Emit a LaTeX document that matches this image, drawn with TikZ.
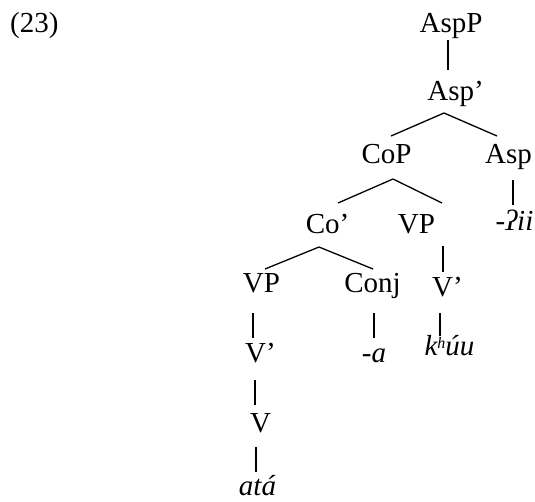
\documentclass[tikz,border=0pt]{standalone}
\usepackage{fontspec}
\setmainfont{Liberation Serif}
\begin{document}
\begin{tikzpicture}[x=1pt,y=1pt,
  lab/.style={inner sep=0pt,anchor=base,font=\fontsize{29}{34}\selectfont},
  leaf/.style={lab,font=\fontsize{29}{34}\selectfont\itshape},
  edge/.style={line width=1.3pt}]
\useasboundingbox (0,0) rectangle (535,-501);
% nodes (x = text centre, y = -baseline)
\node[lab,anchor=base west] (ex) at (10,-32) {(23)};
\node[lab] (aspP)   at (451,-32)   {AspP};
\node[lab] (aspbar) at (455.5,-100) {Asp'};
\node[lab] (coP)    at (386.5,-163) {CoP};
\node[lab] (asp)    at (508.5,-163) {Asp};
\node[leaf] (ii)    at (514.5,-230) {-ʔii};
\node[lab] (cobar)  at (327.5,-233) {Co'};
\node[lab] (vpR)    at (416.5,-233) {VP};
\node[lab] (vpL)    at (261.5,-292) {VP};
\node[lab] (conj)   at (372.5,-292) {Conj};
\node[lab] (vbarR)  at (447.5,-296) {V'};
\node[lab] (vbarL)  at (260.5,-362) {V'};
\node[leaf] (a)     at (374,-362)   {-a};
\node[leaf] (khuu)  at (449.5,-355) {k\raisebox{7pt}{\fontsize{16}{16}\selectfont h}úu};
\node[lab] (v)      at (260.5,-432) {V};
\node[leaf] (ata)   at (257.5,-495) {atá};
% connectors
\draw[edge] ([shift={(-3,-8)}]aspP.base) -- ([shift={(-7.5,30)}]aspbar.base);
\draw[edge] ([shift={(-11.5,-13)}]aspbar.base) -- ([shift={(4.5,27)}]coP.base);
\draw[edge] ([shift={(-11.5,-13)}]aspbar.base) -- ([shift={(-11.5,27)}]asp.base);
\draw[edge] ([shift={(4.5,-17)}]asp.base) -- ([shift={(-1.5,25)}]ii.base);
\draw[edge] ([shift={(6.5,-16)}]coP.base) -- ([shift={(10.5,30)}]cobar.base);
\draw[edge] ([shift={(6.5,-16)}]coP.base) -- ([shift={(25.5,30)}]vpR.base);
\draw[edge] ([shift={(26.5,-13)}]vpR.base) -- ([shift={(-4.5,24)}]vbarR.base);
\draw[edge] ([shift={(-8.5,-14)}]cobar.base) -- ([shift={(3.5,23)}]vpL.base);
\draw[edge] ([shift={(-8.5,-14)}]cobar.base) -- ([shift={(0.5,23)}]conj.base);
\draw[edge] ([shift={(-8.5,-21)}]vpL.base) -- ([shift={(-7.5,24)}]vbarL.base);
\draw[edge] ([shift={(1.5,-21)}]conj.base) -- ([shift={(0,24)}]a.base);
\draw[edge] ([shift={(-7.5,-17)}]vbarR.base) -- ([shift={(-9.5,19)}]khuu.base);
\draw[edge] ([shift={(-5.5,-18)}]vbarL.base) -- ([shift={(-5.5,27)}]v.base);
\draw[edge] ([shift={(-4.5,-15)}]v.base) -- ([shift={(-1.5,23)}]ata.base);
\end{tikzpicture}
\end{document}
